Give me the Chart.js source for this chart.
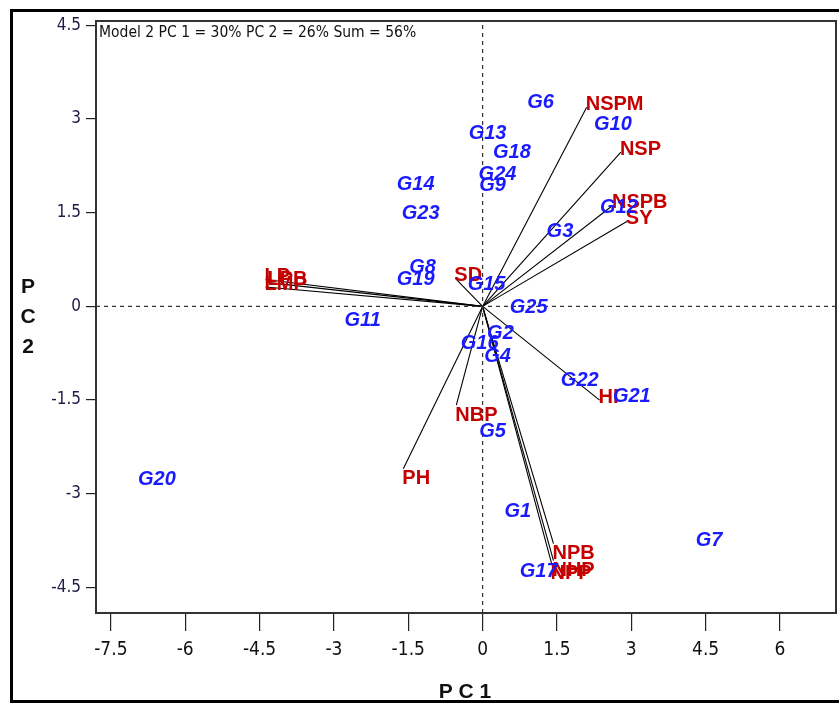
<!DOCTYPE html>
<html>
<head>
<meta charset="utf-8">
<script src="https://cdn.jsdelivr.net/npm/chart.js"></script>
<style>
html, body { margin: 0; padding: 0; background: #fff; }
#chart { display: block; }
</style>
</head>
<body>
<canvas id="chart" width="839" height="704"></canvas>
<script>
// GGE biplot: genotype scores (blue) and trait vectors (red)

const genotypeNames = ['G1', 'G2', 'G3', 'G4', 'G5', 'G6', 'G7', 'G8', 'G9', 'G10', 'G11', 'G12', 'G13',
    'G14', 'G15', 'G16', 'G17', 'G18', 'G19', 'G20', 'G21', 'G22', 'G23', 'G24', 'G25'];
const genotypePC1 = [0.71, 0.36, 1.56, 0.30, 0.20, 1.17, 4.57, -1.21, 0.20, 2.63, -2.42, 2.75, 0.10,
    -1.35, 0.08, -0.06, 1.13, 0.59, -1.35, -6.57, 3.01, 1.96, -1.25, 0.30, 0.93];
const genotypePC2 = [-3.29, -0.43, 1.20, -0.81, -2.00, 3.27, -3.75, 0.63, 1.94, 2.92, -0.23, 1.58, 2.77,
    1.95, 0.35, -0.60, -4.25, 2.47, 0.43, -2.77, -1.44, -1.18, 1.49, 2.11, -0.02];

const traitNames = ['NSPM', 'NSP', 'NSPB', 'SY', 'HI', 'NBP', 'PH', 'SD', 'LP', 'LPB', 'LMP', 'NPB', 'NHP', 'NPP'];
const traitPC1 = [2.10, 2.79, 2.63, 2.91, 2.36, -0.53, -1.60, -0.55, -4.38, -4.32, -4.38, 1.43, 1.43, 1.39];
const traitPC2 = [3.19, 2.47, 1.62, 1.36, -1.50, -1.58, -2.60, 0.45, 0.43, 0.38, 0.31, -3.80, -4.07, -4.11];

const xTicks = [-7.5, -6, -4.5, -3, -1.5, 0, 1.5, 3, 4.5, 6];
const xTickLabels = ['-7.5', '-6', '-4.5', '-3', '-1.5', '0', '1.5', '3', '4.5', '6'];
const yTicks = [-4.5, -3, -1.5, 0, 1.5, 3, 4.5];
const yTickLabels = ['-4.5', '-3', '-1.5', '0', '1.5', '3', '4.5'];

const modelNote = 'Model 2 PC 1 = 30% PC 2 = 26% Sum = 56%';
const xTitle = 'P C 1';
const yTitleLines = ['P', 'C', '2'];

const X_MIN = -7.8, X_MAX = 7.13, Y_MIN = -4.91, Y_MAX = 4.57;

const NARROW = "'Liberation Sans Narrow', 'DejaVu Sans Condensed', 'Liberation Sans', sans-serif";
const SANS = "'Liberation Sans', Arial, sans-serif";
const BLUE = '#1a1aff';
const RED = '#c40000';

// one line per trait, from the origin to the trait score
const vectorSets = traitNames.map((name, i) => ({
    label: name,
    data: [{ x: 0, y: 0 }, { x: traitPC1[i], y: traitPC2[i] }],
    showLine: true,
    borderColor: '#000',
    borderWidth: 1.1,
    pointRadius: 0
}));

const axisSets = [
    { label: 'h0', data: [{ x: X_MIN, y: 0 }, { x: X_MAX, y: 0 }] },
    { label: 'v0', data: [{ x: 0, y: Y_MIN }, { x: 0, y: Y_MAX }] }
].map(d => Object.assign(d, {
    showLine: true, borderColor: '#333', borderWidth: 1.2, borderDash: [4, 4], pointRadius: 0
}));

const genotypeSet = {
    label: 'genotypes',
    data: genotypeNames.map((n, i) => ({ x: genotypePC1[i], y: genotypePC2[i] })),
    pointRadius: 0
};
const traitSet = {
    label: 'traits',
    data: traitNames.map((n, i) => ({ x: traitPC1[i], y: traitPC2[i] })),
    pointRadius: 0
};

const biplotText = {
    id: 'biplotText',
    beforeDraw(chart) {
        const c = chart.ctx;
        c.save();
        c.fillStyle = '#fff';
        c.fillRect(0, 0, chart.width, chart.height);
        c.restore();
    },
    afterDatasetsDraw(chart) {
        const c = chart.ctx;
        const area = chart.chartArea;
        const n = chart.data.datasets.length;
        const traitMeta = chart.getDatasetMeta(n - 1);
        const genoMeta = chart.getDatasetMeta(n - 2);

        c.save();
        // trait labels
        c.font = 'bold 20px ' + SANS;
        c.fillStyle = RED;
        c.textAlign = 'left';
        c.textBaseline = 'middle';
        traitMeta.data.forEach((pt, i) => {
            const steepDown = traitPC2[i] < 0 && Math.abs(traitPC2[i]) > Math.abs(traitPC1[i]);
            c.fillText(traitNames[i], pt.x - 1, pt.y + (steepDown ? 10 : -3));
        });
        // genotype labels
        c.font = 'italic bold 20px ' + SANS;
        c.fillStyle = BLUE;
        c.textAlign = 'center';
        genoMeta.data.forEach((pt, i) => {
            c.fillText(genotypeNames[i], pt.x, pt.y);
        });

        // plot box
        c.strokeStyle = '#333';
        c.lineWidth = 2;
        c.strokeRect(area.left, area.top, area.right - area.left, area.bottom - area.top);

        // model note in the top left corner
        c.fillStyle = '#111';
        c.font = '15.5px ' + NARROW;
        c.textAlign = 'left';
        c.fillText(modelNote, area.left + 3, area.top + 12);

        // axis titles
        c.font = 'bold 21px ' + SANS;
        c.textAlign = 'center';
        c.fillText(xTitle, 465, 692);
        yTitleLines.forEach((t, i) => c.fillText(t, 28, 287 + i * 30));

        // outer frame
        c.strokeStyle = '#000';
        c.lineWidth = 3;
        c.strokeRect(11.5, 10.5, chart.width + 20, 691);
        c.restore();
    }
};

new Chart(document.getElementById('chart').getContext('2d'), {
    type: 'scatter',
    data: { datasets: [...axisSets, ...vectorSets, genotypeSet, traitSet] },
    options: {
        responsive: false,
        animation: false,
        devicePixelRatio: 1,
        layout: { padding: { top: 21, right: 3, left: 0, bottom: 0 } },
        plugins: { legend: { display: false }, tooltip: { enabled: false } },
        scales: {
            x: {
                type: 'linear',
                min: X_MIN,
                max: X_MAX,
                afterBuildTicks: s => { s.ticks = xTicks.map(v => ({ value: v })); },
                afterFit: s => { s.height = 91; },
                grid: { drawOnChartArea: false, drawTicks: true, tickLength: 18, tickColor: '#222', lineWidth: 1.2 },
                border: { display: false },
                ticks: {
                    autoSkip: false,
                    maxRotation: 0,
                    padding: 8,
                    color: '#111',
                    font: { family: NARROW, size: 19 },
                    callback: (v, i) => xTickLabels[i]
                }
            },
            y: {
                type: 'linear',
                min: Y_MIN,
                max: Y_MAX,
                afterBuildTicks: s => { s.ticks = yTicks.map(v => ({ value: v })); },
                afterFit: s => { s.width = 96; },
                grid: { drawOnChartArea: false, drawTicks: true, tickLength: 10, tickColor: '#222', lineWidth: 1.2 },
                border: { display: false },
                ticks: {
                    autoSkip: false,
                    padding: 5,
                    color: '#1c1c44',
                    font: { family: NARROW, size: 17 },
                    callback: (v, i) => yTickLabels[i]
                }
            }
        }
    },
    plugins: [biplotText]
});
</script>
</body>
</html>
